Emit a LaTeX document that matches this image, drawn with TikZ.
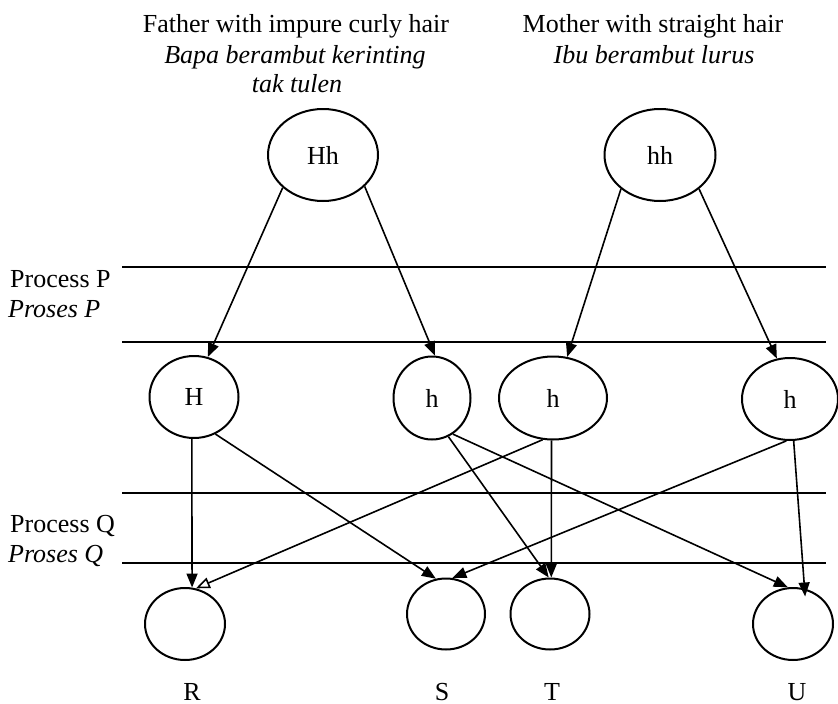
\documentclass[tikz,border=0pt]{standalone}
\usepackage{fontspec}
\setmainfont{Liberation Serif}
\usetikzlibrary{shapes.geometric,arrows.meta}
\begin{document}
\begin{tikzpicture}[x=1pt,y=-1pt,
  every node/.style={font=\fontsize{26}{30}\selectfont},
  circ/.style={draw, ellipse, line width=2pt, inner sep=0pt},
  lbl/.style={anchor=base, inner sep=0pt},
  llbl/.style={anchor=base west, inner sep=0pt},
  arr/.style={line width=1.6pt, -{Triangle[length=14pt,width=11pt]}},
  arro/.style={line width=1.6pt, -{Triangle[open,length=14pt,width=11pt]}},
  sep/.style={line width=2.2pt}]
\useasboundingbox (0,0) rectangle (838,704);

% titles
\node[lbl] (f1) at (296,32) {Father with impure curly hair};
\node[lbl] (f2) at (295,63) {\itshape Bapa berambut kerinting};
\node[lbl] (f3) at (297,92) {\itshape tak tulen};
\node[lbl] (m1) at (653,32) {Mother with straight hair};
\node[lbl] (m2) at (654,63) {\itshape Ibu berambut lurus};

% process labels
\node[llbl] (pp1) at (10,287) {Process P};
\node[llbl] (pp2) at (8,317) {\itshape Proses P};
\node[llbl] (pq1) at (10,532) {Process Q};
\node[llbl] (pq2) at (8,562) {\itshape Proses Q};

% separator lines
\coordinate (l1a) at (122,267); \coordinate (l1b) at (826,267);
\coordinate (l2a) at (122,342); \coordinate (l2b) at (826,342);
\coordinate (l3a) at (122,493); \coordinate (l3b) at (826,493);
\coordinate (l4a) at (122,563); \coordinate (l4b) at (826,563);
\draw[sep] (l1a) -- (l1b);
\draw[sep] (l2a) -- (l2b);
\draw[sep] (l3a) -- (l3b);
\draw[sep] (l4a) -- (l4b);

% parents
\node[circ, minimum width=110pt, minimum height=92pt] (Hh) at (323,155) {Hh};
\node[circ, minimum width=111pt, minimum height=92pt] (hh) at (660,155) {hh};

% gametes
\node[circ, minimum width=89pt, minimum height=82pt] (H) at (194,397) {H};
\node[circ, minimum width=77pt, minimum height=83pt] (h1) at (432,398) {h};
\node[circ, minimum width=108pt, minimum height=83pt] (h2) at (553,398) {h};
\node[circ, minimum width=96pt, minimum height=82pt] (h4) at (790,399) {h};

% offspring
\node[circ, minimum width=80pt, minimum height=72pt] (R) at (185,624) {};
\node[circ, minimum width=78pt, minimum height=71pt] (S) at (446,614) {};
\node[circ, minimum width=79pt, minimum height=71pt] (T) at (550,614) {};
\node[circ, minimum width=80pt, minimum height=72pt] (U) at (793,624) {};

\node[lbl] (lR) at (192,700) {R};
\node[lbl] (lS) at (442,700) {S};
\node[lbl] (lT) at (552,700) {T};
\node[lbl] (lU) at (797,700) {U};

% process P arrows
\draw[arr] (Hh.219) -- (H.71);
\draw[arr] (Hh.323) -- (h1.86);
\draw[arr] (hh.221) -- (h2.71);
\draw[arr] (hh.319) -- (h4.108);

% process Q arrows
\draw[arr] (H.267) -- (R.79);
\draw[arr] (H.300) -- (S.106);
\draw[arr] (h1.293) -- (T.92);
\draw[arr] (h1.300) -- (U.98);
\draw[arr] (h2.268) -- (T.88);
\draw[arro] (h2.256) -- (R.73);
\draw[arr] (h4.265) -- (S.80);
\draw[arr, shorten >=-8pt] (h4.275) -- (U.72);
\end{tikzpicture}
\end{document}
